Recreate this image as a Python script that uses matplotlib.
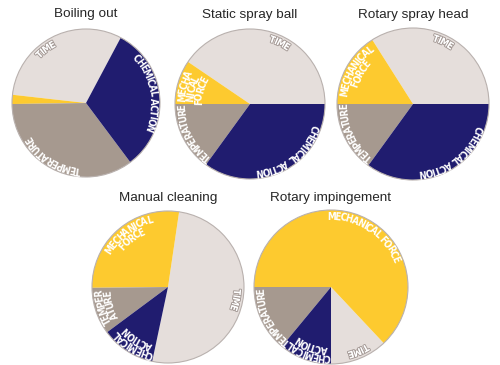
import numpy as np
import matplotlib
matplotlib.use("Agg")
import matplotlib.pyplot as plt
from matplotlib import font_manager, patheffects
from matplotlib.font_manager import FontProperties
from matplotlib.patches import Circle

titles = ["Boiling out", "Static spray ball", "Rotary spray head",
          "Manual cleaning", "Rotary impingement"]
factors = ["TIME", "MECHANICAL FORCE", "TEMPERATURE", "CHEMICAL ACTION"]

# share of each factor (%), same order as factors
boiling_out = [31, 2, 35, 32]
static_spray_ball = [40.5, 9.5, 15, 35]
rotary_spray_head = [34, 16, 15, 35]
manual_cleaning = [51, 27.5, 10, 11.5]
rotary_impingement = [12, 63, 14, 11]
shares = [boiling_out, static_spray_ball, rotary_spray_head,
          manual_cleaning, rotary_impingement]

# how each label is broken over lines inside its slice (None = no label)
label_lines = [
    [["TIME"], None, ["TEMPERATURE"], ["CHEMICAL ACTION"]],
    [["TIME"], ["MECHA", "NICAL", "FORCE"], ["TEMPERATURE"], ["CHEMICAL ACTION"]],
    [["TIME"], ["MECHANICAL", "FORCE"], ["TEMPERATURE"], ["CHEMICAL ACTION"]],
    [["TIME"], ["MECHANICAL", "FORCE"], ["TEMPER", "ATURE"], ["CHEMICAL", "ACTION"]],
    [["TIME"], ["MECHANICAL FORCE"], ["TEMPERATURE"], ["CHEMICAL", "ACTION"]],
]

colors = ["#e5dedb", "#fdca2f", "#a6998f", "#201c6f"]

# layout, in pixels measured from the top left corner
W, H = 500, 365
centers = [(86, 103), (250, 104), (413, 104), (168, 287), (331, 287)]
radii = [74, 75, 76, 76, 77]
start_angles = [62, 0, 0, -102, 270]
label_angles = [
    [127, None, 238, 10],
    [64, 165, 207, -51.5],
    [64, 150, 206, -52],
    [-11, 127, 197, 239],
    [-67, 57, 207, 251],
]

# pick a narrow bold face for the slice labels if there is one
ttf = font_manager.fontManager.ttflist
names = {f.name for f in ttf}
if "Liberation Sans Narrow" in names:
    label_fp = FontProperties(family="Liberation Sans Narrow", weight="bold", size=7.5)
    track = 0.98
elif any(f.name == "DejaVu Sans" and f.stretch == "condensed" for f in ttf):
    label_fp = FontProperties(family="DejaVu Sans", weight="bold",
                              stretch="condensed", size=7.0)
    track = 0.88
else:
    label_fp = FontProperties(family="DejaVu Sans", weight="bold", size=6.6)
    track = 0.82

_font = font_manager.get_font(font_manager.findfont(label_fp))
_font.set_size(label_fp.get_size_in_points(), 72)
PX = 100 / 72


def advance(ch):
    g = _font.load_char(ord(ch))
    return g.linearHoriAdvance / 65536 * PX * track


def curved_text(ax, cx, cy, r, angle, text, stroke=None):
    """Write text clockwise along a circle, letter tops pointing outward."""
    widths = [advance(c) for c in text]
    s = -sum(widths) / 2
    for c, w in zip(text, widths):
        th = np.radians(angle) - (s + w / 2) / r
        t = ax.text(cx + r * np.cos(th), cy + r * np.sin(th), c,
                    rotation=np.degrees(th) - 90, rotation_mode="anchor",
                    ha="center", va="center", color="white",
                    fontproperties=label_fp)
        if stroke:
            t.set_path_effects([patheffects.withStroke(linewidth=1.3, foreground=stroke)])
        s += w


fig = plt.figure(figsize=(W / 100, H / 100), dpi=100)
ax = fig.add_axes([0, 0, 1, 1])

for i in range(len(titles)):
    cx, cy = centers[i][0], H - centers[i][1]
    r = radii[i]
    ax.pie(shares[i], colors=colors, startangle=start_angles[i],
           center=(cx, cy), radius=r, wedgeprops=dict(linewidth=0))
    ax.add_patch(Circle((cx, cy), r, fill=False, edgecolor="#b9b1ae", linewidth=0.8))
    ax.text(cx, H - (centers[i][1] - 89), titles[i], ha="center", va="center",
            fontsize=9.7, family="Liberation Sans", color="#262626")
    for j, lines in enumerate(label_lines[i]):
        if lines is None:
            continue
        stroke = "#a39894" if j == 0 else None
        for k, line in enumerate(lines):
            curved_text(ax, cx, cy, r - 7 - 8.5 * k, label_angles[i][j], line, stroke)

ax.set_xlim(0, W)
ax.set_ylim(0, H)
ax.set_aspect("equal")
ax.axis("off")
fig.savefig("out.png", dpi=100, facecolor="white")
